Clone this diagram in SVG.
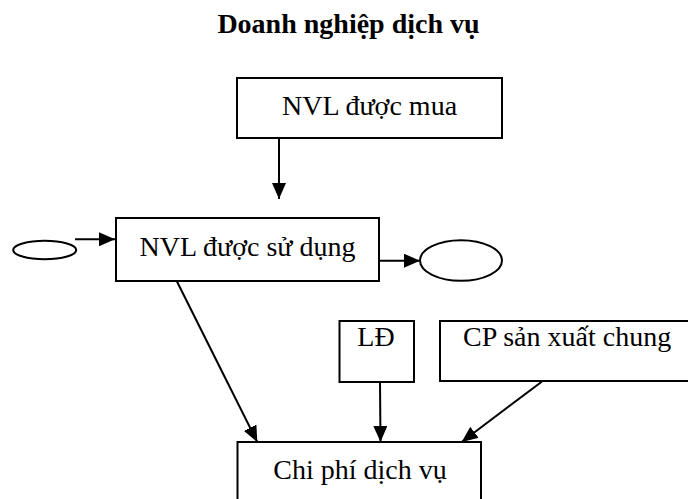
<svg xmlns="http://www.w3.org/2000/svg" width="688" height="499" viewBox="0 0 688 499">
<style>
.box{fill:#fff;stroke:#000;stroke-width:2}
.t{font-family:"Liberation Serif","Times New Roman",serif;font-size:28px;fill:#000}
.title{font-family:"Liberation Serif","Times New Roman",serif;font-size:28px;font-weight:bold;fill:#000}
.c{stroke:#000;stroke-width:2;fill:none}
</style>
<defs>
<marker id="ah" markerUnits="userSpaceOnUse" markerWidth="16" markerHeight="14" refX="16" refY="7" orient="auto">
<path d="M0,0 L16,7 L0,14 z" fill="#000"/>
</marker>
</defs>
<rect width="688" height="499" fill="#fff"/>
<text class="title" x="348.5" y="33" text-anchor="middle">Doanh nghiệp dịch vụ</text>
<g id="nvl-mua"><rect class="box" x="237" y="78" width="265" height="60"/><text class="t" x="369.5" y="115" text-anchor="middle">NVL được mua</text></g>
<g id="nvl-sudung"><rect class="box" x="116" y="218" width="263" height="63"/><text class="t" x="247.5" y="256" text-anchor="middle">NVL được sử dụng</text></g>
<g id="ellipse-in"><ellipse class="box" cx="44.7" cy="250" rx="31.5" ry="9.3"/></g>
<g id="ellipse-out"><ellipse class="box" cx="461" cy="260.5" rx="41" ry="20.3"/></g>
<g id="ld"><rect class="box" x="339.5" y="321" width="74.5" height="61"/><text class="t" x="376" y="346" text-anchor="middle">LĐ</text></g>
<g id="cpsxc"><rect class="box" x="440" y="321" width="260" height="60"/><text class="t" x="463" y="346">CP sản xuất chung</text></g>
<g id="cpdv"><rect class="box" x="237.5" y="442" width="243.5" height="70"/><text class="t" x="360" y="479" text-anchor="middle">Chi phí dịch vụ</text></g>
<g id="connectors">
<line class="c" x1="279" y1="138" x2="279" y2="199" marker-end="url(#ah)"/>
<line class="c" x1="75" y1="239.3" x2="115" y2="239.3" marker-end="url(#ah)"/>
<line class="c" x1="379" y1="260.7" x2="420" y2="260.7" marker-end="url(#ah)"/>
<line class="c" x1="176.7" y1="281" x2="257.3" y2="442" marker-end="url(#ah)"/>
<line class="c" x1="380" y1="382" x2="380.5" y2="442" marker-end="url(#ah)"/>
<line class="c" x1="541.7" y1="381.7" x2="461.7" y2="442" marker-end="url(#ah)"/>
</g>
</svg>
